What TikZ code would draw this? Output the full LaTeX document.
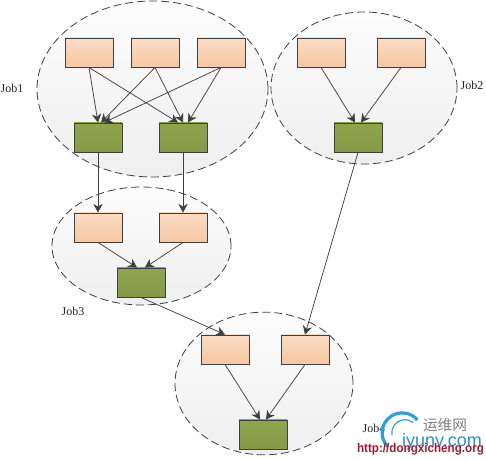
\documentclass[tikz,border=0pt]{standalone}
\usepackage{fontspec}
\setmainfont{Liberation Serif}
\newfontfamily\cjkfont{Noto Sans CJK SC}
\newfontfamily\markfont{Liberation Sans}
\usetikzlibrary{arrows.meta, shapes.geometric, shadows}
\definecolor{peachtop}{HTML}{FBDCC6}
\definecolor{peachbot}{HTML}{F6C7A2}
\definecolor{leaf}{HTML}{8FA44E}
\definecolor{leafdk}{HTML}{849A46}
\definecolor{edgedk}{HTML}{3F3F3F}
\definecolor{zonetop}{HTML}{FCFCFC}
\definecolor{zonebot}{HTML}{EFEFEF}
\definecolor{swoosh}{HTML}{2E9FDC}
\definecolor{markblue}{HTML}{2F8FC4}
\definecolor{markred}{HTML}{A01C34}
\tikzset{
  jobzone/.style={ellipse, draw=edgedk, dash pattern=on 6pt off 3pt, line width=0.6pt, inner sep=0pt,
    top color=zonetop, bottom color=zonebot},
  srcbox/.style={rectangle, draw=edgedk, line width=0.7pt, inner sep=0pt,
    minimum width=36pt, minimum height=21.75pt, top color=peachtop, bottom color=peachbot,
    drop shadow={shadow xshift=0.8pt, shadow yshift=-0.8pt, opacity=0.2}},
  sinkbox/.style={rectangle, draw=edgedk, line width=0.7pt, inner sep=0pt,
    minimum width=36pt, minimum height=21.75pt, top color=leaf, bottom color=leafdk,
    drop shadow={shadow xshift=0.8pt, shadow yshift=-0.8pt, opacity=0.2}},
  joblabel/.style={font=\fontsize{9}{11}\selectfont, text=black!85},
  flow/.style={-{Stealth[length=6.5pt, width=7pt]}, edgedk, line width=0.55pt}
}

\begin{document}
\begin{tikzpicture}[x=0.75pt, y=-0.75pt]

% Canvas
\useasboundingbox (0,0) rectangle (486,459);
\fill[white] (0,0) rectangle (486,459);

% Job zones
\node[jobzone, minimum width=173.25pt, minimum height=132pt] (zone1) at (152.5,89) {};
\node[jobzone, minimum width=139.5pt, minimum height=114pt] (zone2) at (364,88) {};
\node[jobzone, minimum width=134.25pt, minimum height=88.5pt] (zone3) at (141.5,246) {};
\node[jobzone, minimum width=133.5pt, minimum height=107pt] (zone4) at (264,383.5) {};

% Job1 boxes
\node[srcbox] (a1) at (89,52.5) {};
\node[srcbox] (a2) at (155,52.5) {};
\node[srcbox] (a3) at (221,52.5) {};
\node[sinkbox] (a4) at (98,137.5) {};
\node[sinkbox] (a5) at (183,137.5) {};

% Job2 boxes
\node[srcbox] (b1) at (321,52.5) {};
\node[srcbox] (b2) at (401,52.5) {};
\node[sinkbox] (b3) at (358,137.5) {};

% Job3 boxes
\node[srcbox] (c1) at (98,227.5) {};
\node[srcbox] (c2) at (183,227.5) {};
\node[sinkbox] (c3) at (141,282.5) {};

% Job4 boxes
\node[srcbox] (d1) at (225,349.5) {};
\node[srcbox] (d2) at (305,349.5) {};
\node[sinkbox] (d3) at (263,434.5) {};

% Connectors, last value = where the tip lands on the top edge
\foreach \from/\to/\dx in {a1/a4/0, a2/a4/3, a3/a4/6, a1/a5/-5, a2/a5/0, a3/a5/5, a4/c1/0, a5/c2/0,
    b1/b3/-3, b2/b3/3, b3/d2/0, c1/c3/-4, c2/c3/4, c3/d1/0, d1/d3/-3, d2/d3/3} {
  \draw[flow] (\from.south) -- ([xshift=\dx*0.75pt]\to.north);
}

% Job labels
\node[joblabel] (job1) at (12,88) {Job1};
\node[joblabel] (job2) at (472,85) {Job2};
\node[joblabel] (job3) at (73,311) {Job3};
\node[joblabel] (job4) at (374,428) {Job4};

% Watermark
\draw[swoosh, line width=2.4pt] (388,447) arc[start angle=135, end angle=320, radius=20];
\draw[swoosh, line width=0.9pt] (392,435) arc[start angle=170, end angle=310, radius=13];
\node[font=\cjkfont\fontsize{11}{13}\selectfont, text=black!50] (markcn) at (445,425) {运维网};
\node[font=\markfont\fontsize{13.5}{16}\selectfont, text=markblue] (markcom) at (442,442) {iyunv.com};
\node[font=\markfont\bfseries\fontsize{9.5}{11}\selectfont, text=markred, xscale=0.92] (markurl) at (420.5,449) {http://dongxicheng.org};

\end{tikzpicture}
\end{document}
